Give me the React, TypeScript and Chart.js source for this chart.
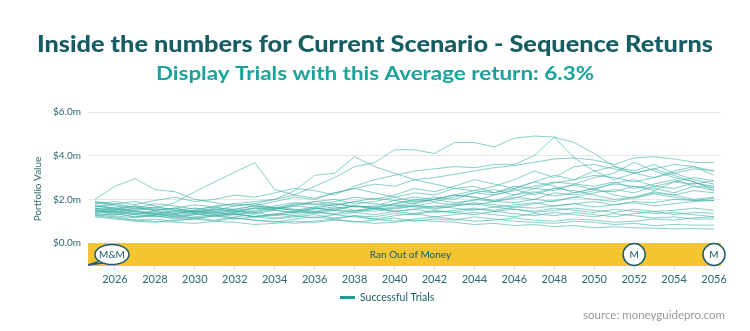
import React, { useEffect, useRef } from 'react';
import { Chart, registerables } from 'chart.js';
Chart.register(...registerables);

const years = [2025, 2026, 2027, 2028, 2029, 2030, 2031, 2032, 2033, 2034, 2035, 2036, 2037, 2038, 2039, 2040,
  2041, 2042, 2043, 2044, 2045, 2046, 2047, 2048, 2049, 2050, 2051, 2052, 2053, 2054, 2055, 2056];

const xTickYears = [2026, 2028, 2030, 2032, 2034, 2036, 2038, 2040, 2042, 2044, 2046, 2048, 2050, 2052, 2054, 2056];
const yTickValues = [0, 2, 4, 6];

const trial01 = [2.0,2.6,2.95,2.45,2.35,2.0,1.85,1.7,1.8,1.6,1.75,1.9,1.8,1.65,1.7,1.95,2.1,2.0,1.85,1.95,2.2,2.45,2.2,2.5,2.65,2.45,2.75,2.9,2.6,2.5,2.75,2.6];
const trial02 = [1.7,1.6,1.5,1.6,1.85,2.35,2.8,3.25,3.68,2.45,2.2,2.05,2.3,2.5,2.3,2.1,1.9,2.0,2.2,2.1,1.9,2.05,2.3,2.5,2.4,2.2,2.0,2.1,2.35,2.2,2.0,2.1];
const trial03 = [1.6,1.5,1.7,1.6,1.4,1.5,1.7,1.8,1.9,2.0,2.4,3.1,3.2,3.95,3.5,3.2,2.9,2.7,2.5,2.6,2.3,2.5,2.8,2.6,2.3,2.5,2.7,2.6,2.4,2.8,3.0,2.85];
const trial04 = [1.5,1.4,1.3,1.5,1.6,1.4,1.5,1.7,1.8,2.0,2.2,2.6,3.0,3.5,3.68,4.27,4.27,4.1,4.6,4.6,4.4,4.8,4.9,4.85,4.6,4.1,3.5,3.3,3.6,3.2,2.9,2.7];
const trial05 = [1.8,1.9,1.75,1.95,2.1,1.9,2.0,2.2,2.1,2.3,2.5,2.4,2.2,2.6,2.9,3.1,3.3,3.4,3.5,3.45,3.6,3.6,4.0,4.85,3.9,3.3,2.9,3.2,3.4,3.1,2.8,2.5];
const trial06 = [1.9,1.75,1.6,1.8,1.7,1.55,1.65,1.8,1.7,1.9,2.1,2.0,2.3,2.5,2.7,2.6,2.9,3.0,3.15,3.3,3.45,3.55,3.7,3.85,3.9,3.8,3.6,3.9,3.95,3.85,3.7,3.68];
const trial07 = [1.65,1.8,1.9,1.7,1.5,1.45,1.6,1.55,1.7,1.6,1.8,1.75,1.9,2.1,2.0,2.2,2.5,2.35,2.6,2.9,2.7,2.5,2.8,3.1,2.9,3.3,3.5,3.2,3.4,3.6,3.5,3.3];
const trial08 = [1.45,1.3,1.5,1.35,1.2,1.3,1.45,1.4,1.6,1.55,1.7,1.9,2.0,1.8,1.9,2.1,2.3,2.2,2.5,2.4,2.6,2.9,3.3,3.0,3.5,3.6,3.4,3.2,3.0,3.3,3.5,3.1];
const trial09 = [1.55,1.6,1.45,1.3,1.35,1.5,1.4,1.3,1.45,1.6,1.5,1.4,1.55,1.7,1.6,1.8,1.95,2.1,2.0,2.3,2.2,2.4,2.6,2.8,2.7,3.0,3.2,3.7,3.3,3.0,2.8,2.4];
const trial10 = [1.35,1.25,1.15,1.3,1.2,1.1,1.25,1.35,1.2,1.3,1.45,1.6,1.5,1.7,1.65,1.8,2.0,1.9,2.1,2.3,2.45,2.2,2.5,2.4,2.7,2.6,2.8,2.5,2.7,2.9,2.6,2.55];
const trial11 = [1.25,1.15,1.05,1.1,1.0,1.15,1.05,1.2,1.3,1.15,1.25,1.4,1.35,1.5,1.45,1.6,1.7,1.85,1.75,2.0,1.9,2.1,2.0,2.3,2.2,2.4,2.35,2.6,2.5,2.3,2.6,2.4];
const trial12 = [1.75,1.6,1.7,1.5,1.6,1.75,1.65,1.5,1.6,1.7,1.85,1.8,1.7,1.9,2.05,1.95,1.8,2.0,2.2,2.1,1.95,2.2,2.35,2.15,2.3,2.5,2.2,2.05,2.25,2.1,1.95,1.95];
const trial13 = [1.4,1.5,1.35,1.45,1.3,1.4,1.55,1.45,1.35,1.5,1.4,1.6,1.5,1.45,1.6,1.55,1.7,1.65,1.8,1.75,1.9,1.85,2.0,1.9,2.1,2.0,1.9,2.1,2.3,2.2,2.4,2.3];
const trial14 = [1.2,1.1,1.0,0.95,1.05,1.1,1.0,1.15,1.05,0.95,1.1,1.2,1.1,1.25,1.2,1.35,1.3,1.45,1.4,1.55,1.5,1.65,1.6,1.7,1.8,1.65,1.75,1.9,1.85,2.0,1.95,2.05];
const trial15 = [1.3,1.2,1.05,1.0,0.95,0.9,1.0,0.95,0.85,0.9,1.0,0.95,1.05,1.0,0.9,0.95,1.05,1.0,0.95,0.85,0.9,0.8,0.85,0.75,0.8,0.7,0.75,0.7,0.68,0.65,0.66,0.64];
const trial16 = [1.5,1.35,1.2,1.25,1.1,1.2,1.3,1.15,1.05,1.0,0.9,1.0,1.1,0.95,1.05,1.15,1.0,1.1,1.05,1.2,1.1,1.0,0.95,0.9,1.0,0.95,0.85,0.9,0.8,0.85,0.82,0.82];
const trial17 = [1.6,1.45,1.3,1.4,1.25,1.35,1.2,1.3,1.4,1.25,1.35,1.45,1.3,1.4,1.55,1.45,1.35,1.5,1.4,1.3,1.45,1.35,1.25,1.4,1.3,1.2,1.35,1.25,1.15,1.2,1.1,1.1];
const trial18 = [1.85,1.7,1.55,1.65,1.5,1.4,1.55,1.45,1.6,1.5,1.4,1.55,1.65,1.5,1.6,1.45,1.55,1.7,1.6,1.5,1.65,1.55,1.45,1.6,1.5,1.4,1.55,1.45,1.35,1.4,1.3,1.2];
const trial19 = [1.45,1.55,1.4,1.25,1.15,1.3,1.4,1.3,1.2,1.35,1.25,1.15,1.3,1.2,1.1,1.25,1.35,1.2,1.3,1.4,1.3,1.2,1.35,1.25,1.4,1.3,1.2,1.35,1.45,1.3,1.4,1.36];
const trial20 = [1.7,1.55,1.45,1.35,1.5,1.6,1.45,1.55,1.7,1.6,1.5,1.65,1.8,1.7,1.6,1.75,1.65,1.55,1.7,1.8,1.65,1.75,1.85,1.7,1.8,1.9,1.75,1.85,1.7,1.8,1.9,1.95];
const trial21 = [1.35,1.45,1.3,1.2,1.3,1.15,1.25,1.35,1.2,1.1,1.2,1.3,1.15,1.25,1.1,1.0,1.1,1.2,1.1,1.0,1.05,1.15,1.05,1.0,1.1,1.05,0.95,1.0,1.1,1.05,1.15,1.2];
const trial22 = [1.55,1.4,1.6,1.5,1.35,1.45,1.3,1.4,1.5,1.65,1.55,1.45,1.6,1.7,1.55,1.65,1.75,1.6,1.7,1.85,1.75,1.65,1.8,1.95,2.1,2.3,2.45,2.3,2.6,2.8,2.7,2.86];
const trial23 = [1.9,1.8,1.65,1.5,1.6,1.45,1.35,1.5,1.4,1.55,1.7,1.6,1.75,1.9,1.8,1.7,1.85,2.0,2.2,2.4,2.3,2.6,2.5,2.75,2.9,3.1,3.0,2.8,3.0,3.2,3.4,3.3];
const trial24 = [1.25,1.35,1.2,1.3,1.45,1.35,1.25,1.1,1.2,1.3,1.45,1.35,1.5,1.4,1.3,1.45,1.55,1.4,1.5,1.6,1.45,1.55,1.4,1.5,1.6,1.5,1.4,1.55,1.45,1.5,1.6,1.5];

const trials = [trial01, trial02, trial03, trial04, trial05, trial06, trial07, trial08, trial09, trial10, trial11, trial12,
  trial13, trial14, trial15, trial16, trial17, trial18, trial19, trial20, trial21, trial22, trial23, trial24];

const markerYears = [2025.85, 2052, 2056];
const markerLabels = ['M&M', 'M', 'M'];

const TITLE = 'Inside the numbers for Current Scenario - Sequence Returns';
const SUBTITLE = 'Display Trials with this Average return: 6.3%';
const BAND_TEXT = 'Ran Out of Money';
const LEGEND_TEXT = 'Successful Trials';
const SOURCE_TEXT = 'source: moneyguidepro.com';
const Y_TITLE = 'Portfolio Value';

const DARK = '#165c63';
const TEAL = '#1aa39b';
const AXIS = '#2d6870';
const LINE = 'rgba(64,178,168,0.62)';
const BAND = '#f4c531';
const FONT = 'Lato, "Open Sans", sans-serif';

function fitText(ctx: CanvasRenderingContext2D, text: string, cx: number, cy: number, width: number) {
  const w = ctx.measureText(text).width;
  const s = width / w;
  ctx.save();
  ctx.translate(cx, cy);
  ctx.scale(s, 1);
  ctx.fillText(text, 0, 0);
  ctx.restore();
}

const decorPlugin = {
  id: 'decor',
  beforeDatasetsDraw(chart: any) {
    const { ctx, chartArea, scales } = chart;
    const y0 = scales.y.getPixelForValue(0);
    ctx.save();
    ctx.fillStyle = BAND;
    ctx.fillRect(chartArea.left, y0, chartArea.right - chartArea.left, chartArea.bottom - y0);
    ctx.restore();
  },
  afterDraw(chart: any) {
    const { ctx, chartArea, scales } = chart;
    const W = chart.width;
    const y0 = scales.y.getPixelForValue(0);
    const bandMid = (y0 + chartArea.bottom) / 2;
    ctx.save();
    // titles
    ctx.textAlign = 'center';
    ctx.textBaseline = 'middle';
    ctx.fillStyle = DARK;
    ctx.font = `900 22px ${FONT}`;
    fitText(ctx, TITLE, W / 2, 45, 676);
    ctx.fillStyle = TEAL;
    ctx.font = `bold 18px ${FONT}`;
    fitText(ctx, SUBTITLE, W / 2, 74.5, 438);
    // y title
    ctx.save();
    ctx.translate(38, 189);
    ctx.rotate(-Math.PI / 2);
    ctx.fillStyle = AXIS;
    ctx.font = `10px ${FONT}`;
    ctx.fillText(Y_TITLE, 0, 0);
    ctx.restore();
    // band text
    ctx.fillStyle = DARK;
    ctx.font = `10px ${FONT}`;
    ctx.fillText(BAND_TEXT, (chartArea.left + chartArea.right) / 2 + 6, bandMid);
    // markers
    markerYears.forEach((yr, i) => {
      const cx = scales.x.getPixelForValue(yr);
      const label = markerLabels[i];
      ctx.lineWidth = 1.5;
      ctx.strokeStyle = '#1d5f68';
      ctx.fillStyle = '#ffffff';
      if (label.length > 1) {
        ctx.beginPath();
        ctx.moveTo(cx - 10, bandMid + 6);
        ctx.lineTo(chartArea.left, chartArea.bottom - 1);
        ctx.lineTo(cx - 5, bandMid + 8);
        ctx.fill();
        ctx.stroke();
        ctx.beginPath();
        ctx.ellipse(cx, bandMid, 17, 10, 0, 0, Math.PI * 2);
        ctx.fill();
        ctx.stroke();
      } else {
        ctx.beginPath();
        ctx.arc(cx, bandMid, 11, 0, Math.PI * 2);
        ctx.fill();
        ctx.stroke();
      }
      ctx.fillStyle = DARK;
      ctx.font = `10px ${FONT}`;
      ctx.fillText(label, cx, bandMid + 0.5);
    });
    // legend
    ctx.fillStyle = '#1b9e97';
    ctx.fillRect(340, 296, 15, 3);
    ctx.fillStyle = DARK;
    ctx.textAlign = 'left';
    ctx.font = `10.5px ${FONT}`;
    ctx.fillText(LEGEND_TEXT, 360, 297.5);
    // source
    ctx.textAlign = 'right';
    ctx.fillStyle = '#999999';
    ctx.font = `11.5px ${FONT}`;
    ctx.fillText(SOURCE_TEXT, 725, 315);
    ctx.restore();
  },
};

export default function App() {
  const ref = useRef<HTMLCanvasElement | null>(null);
  useEffect(() => {
    document.body.style.margin = '0';
    const canvas = ref.current!;
    const chart = new Chart(canvas, {
      type: 'line',
      data: {
        datasets: trials.map((vals, k) => ({
          label: `Trial ${k + 1}`,
          data: years.map((yr, i) => ({ x: yr, y: vals[i] })),
          borderColor: LINE,
          borderWidth: 1,
          pointRadius: 0,
          fill: false,
          tension: 0,
        })),
      },
      options: {
        responsive: false,
        animation: false,
        devicePixelRatio: 1,
        layout: { padding: { top: 112, left: 0, right: 29, bottom: 45 } },
        plugins: { legend: { display: false }, tooltip: { enabled: false }, title: { display: false } },
        scales: {
          x: {
            type: 'linear',
            min: 2024.65,
            max: 2056.35,
            afterBuildTicks: (s: any) => { s.ticks = xTickYears.map((v) => ({ value: v })); },
            afterFit: (s: any) => { s.height = 20; },
            border: { display: false },
            grid: { drawOnChartArea: false, drawTicks: true, tickLength: 4, color: '#dddddd' },
            ticks: { padding: 3, color: AXIS, font: { family: FONT, size: 11 }, callback: (v: any) => String(v), maxRotation: 0 },
          },
          y: {
            min: -1.05,
            max: 6,
            afterBuildTicks: (s: any) => { s.ticks = yTickValues.map((v) => ({ value: v })); },
            afterFit: (s: any) => { s.width = 88; },
            border: { display: false },
            grid: { drawTicks: false, color: '#e6e6e6', lineWidth: 1 },
            ticks: { padding: 7, color: AXIS, font: { family: FONT, size: 10 }, callback: (v: any) => `$${Number(v).toFixed(1)}m` },
          },
        },
      },
      plugins: [decorPlugin],
    });
    return () => chart.destroy();
  }, []);
  return (
    <div style={{ position: 'fixed', left: 0, top: 0, width: 750, height: 331, background: '#fff' }}>
      <canvas ref={ref} width={750} height={331} style={{ width: 750, height: 331, display: 'block' }} />
    </div>
  );
}
